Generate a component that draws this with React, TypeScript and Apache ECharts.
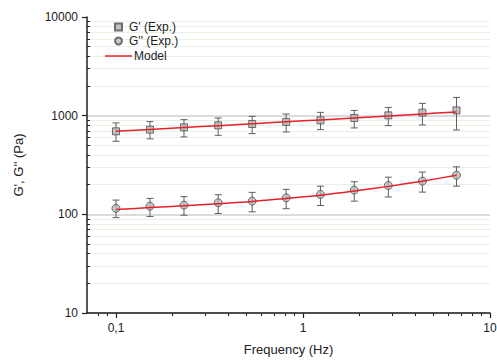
import React, { useEffect, useRef } from 'react';
import * as echarts from 'echarts';

const freq = [0.1, 0.152, 0.231, 0.352, 0.535, 0.813, 1.24, 1.88, 2.86, 4.35, 6.62];
const gPrime = [694, 722, 762, 798, 824, 864, 897, 948, 1007, 1072, 1131];
const gPrimeLow = [550, 582, 609, 632, 658, 684, 722, 751, 792, 805, 717];
const gPrimeHigh = [844, 870, 911, 948, 984, 1040, 1080, 1131, 1213, 1333, 1531];
const gDouble = [115, 121, 124, 131, 136, 147, 159, 176, 196, 217, 249];
const gDoubleLow = [92.6, 95, 98, 102, 106, 114, 123, 136, 150, 168, 193];
const gDoubleHigh = [139.5, 145, 151, 158, 167, 179, 193, 214, 238, 268, 303];
const modelPrime = [694, 725, 758, 792, 828, 866, 906, 948, 993, 1040, 1090];
const modelDouble = [112, 117, 122, 128, 135, 145, 156, 172, 192, 217, 249];
const xMajorTicks = [0.1, 1, 10];
const xMinorTicks = [0.08, 0.09, 0.2, 0.3, 0.4, 0.5, 0.6, 0.7, 0.8, 0.9, 2, 3, 4, 5, 6, 7, 8, 9];
const yTickLabels = ['10', '100', '1000', '10000'];

const FONT = 'Liberation Sans, Arial, sans-serif';

function errorBars(name: string, lows: number[], highs: number[]) {
  return {
    type: 'custom',
    name,
    xAxisIndex: 0,
    yAxisIndex: 0,
    z: 2,
    encode: { x: 0, y: [1, 2] },
    data: freq.map((f, i) => [f, lows[i], highs[i]]),
    renderItem: (params: any, api: any) => {
      const x = api.value(0);
      const pLo = api.coord([x, api.value(1)]);
      const pHi = api.coord([x, api.value(2)]);
      const w = 3.5;
      const style = { stroke: '#5e5e5e', lineWidth: 1 };
      return {
        type: 'group',
        children: [
          { type: 'line', shape: { x1: pLo[0], y1: pLo[1], x2: pHi[0], y2: pHi[1] }, style },
          { type: 'line', shape: { x1: pLo[0] - w, y1: pLo[1], x2: pLo[0] + w, y2: pLo[1] }, style },
          { type: 'line', shape: { x1: pHi[0] - w, y1: pHi[1], x2: pHi[0] + w, y2: pHi[1] }, style },
        ],
      };
    },
  };
}

export default function App() {
  const ref = useRef<HTMLDivElement>(null);
  useEffect(() => {
    const chart = echarts.init(ref.current!, null, { renderer: 'svg' });
    chart.setOption({
      animation: false,
      backgroundColor: '#ffffff',
      textStyle: { fontFamily: FONT },
      grid: { left: 87, right: 7, top: 17, bottom: 49, containLabel: false, outerBoundsMode: 'none' },
      legend: [
        {
          data: [
            { name: "G' (Exp.)", icon: 'rect' },
            { name: "G'' (Exp.)", icon: 'circle' },
          ],
          orient: 'vertical',
          left: 109,
          top: 16,
          itemWidth: 7,
          itemHeight: 7,
          itemGap: 2,
          textStyle: { fontFamily: FONT, fontSize: 12, color: '#222', padding: [0, 0, 0, 2] },
        },
        {
          data: [{ name: 'Model', icon: 'rect' }],
          orient: 'vertical',
          left: 100,
          top: 45,
          itemWidth: 27,
          itemHeight: 1.5,
          textStyle: { fontFamily: FONT, fontSize: 12, color: '#222', padding: [0, 0, 0, -3] },
        },
      ],
      xAxis: [
        {
          type: 'log',
          min: 0.07,
          max: 10,
          position: 'bottom',
          name: 'Frequency (Hz)',
          nameLocation: 'middle',
          nameGap: 30,
          nameTextStyle: { fontFamily: FONT, fontSize: 13, color: '#222' },
          axisLine: { show: true, lineStyle: { color: '#222', width: 1.5 } },
          axisTick: { show: true, customValues: xMajorTicks, length: 5, lineStyle: { color: '#222', width: 1.2 } },
          axisLabel: {
            customValues: xMajorTicks,
            margin: 9,
            fontFamily: FONT,
            fontSize: 12,
            color: '#222',
            formatter: (v: number) => (v < 0.099 ? '' : String(v).replace('.', ',')),
          },
          splitLine: { show: false },
        },
        {
          type: 'log',
          min: 0.07,
          max: 10,
          position: 'bottom',
          axisLine: { show: false },
          axisTick: { show: true, customValues: xMinorTicks, length: 3, lineStyle: { color: '#222', width: 1 } },
          axisLabel: { show: false },
          splitLine: { show: false },
        },
      ],
      yAxis: [
        {
          type: 'log',
          min: 10,
          max: 10000,
          position: 'left',
          name: "G', G'' (Pa)",
          nameLocation: 'middle',
          nameGap: 62,
          nameTextStyle: { fontFamily: FONT, fontSize: 13, color: '#222' },
          axisLine: { show: true, lineStyle: { color: '#222', width: 1.5 } },
          axisTick: { show: true, length: 5, lineStyle: { color: '#222', width: 1.2 } },
          axisLabel: {
            margin: 9,
            fontFamily: FONT,
            fontSize: 12,
            color: '#222',
            formatter: (v: number) => {
              const s = String(Math.round(v));
              return yTickLabels.includes(s) ? s : '';
            },
          },
          splitLine: { show: true, showMaxLine: false, lineStyle: { color: '#cfcfcf', width: 1.5 } },
          minorTick: { show: false, splitNumber: 9 },
          minorSplitLine: { show: true, lineStyle: { color: '#e7f2e5', width: 1 } },
        },
        {
          type: 'log',
          min: 10,
          max: 10000,
          position: 'left',
          axisLine: { show: false },
          axisTick: { show: false, inside: true },
          axisLabel: { show: false },
          splitLine: { show: false },
          minorTick: { show: true, splitNumber: 9, length: 3, lineStyle: { color: '#222', width: 1 } },
        },
      ],
      series: [
        errorBars('errG1', gPrimeLow, gPrimeHigh),
        errorBars('errG2', gDoubleLow, gDoubleHigh),
        {
          type: 'scatter',
          name: "G' (Exp.)",
          symbol: 'rect',
          symbolSize: 7,
          z: 3,
          itemStyle: { color: '#b5b5b5', borderColor: '#4f4f4f', borderWidth: 1 },
          data: freq.map((f, i) => [f, gPrime[i]]),
        },
        {
          type: 'scatter',
          name: "G'' (Exp.)",
          symbol: 'circle',
          symbolSize: 8,
          z: 3,
          itemStyle: { color: '#b9b9b9', borderColor: '#4f4f4f', borderWidth: 1 },
          data: freq.map((f, i) => [f, gDouble[i]]),
        },
        {
          type: 'line',
          name: 'Model',
          symbol: 'none',
          smooth: 0.3,
          z: 4,
          color: '#e8202a',
          lineStyle: { color: '#e8202a', width: 1.5 },
          data: freq.map((f, i) => [f, modelPrime[i]]),
        },
        {
          type: 'line',
          name: 'Model',
          symbol: 'none',
          smooth: 0.3,
          z: 4,
          color: '#e8202a',
          lineStyle: { color: '#e8202a', width: 1.5 },
          data: freq.map((f, i) => [f, modelDouble[i]]),
        },
      ],
    });
    return () => chart.dispose();
  }, []);
  return <div ref={ref} style={{ width: 497, height: 362, position: 'absolute', left: 0, top: 0 }} />;
}
